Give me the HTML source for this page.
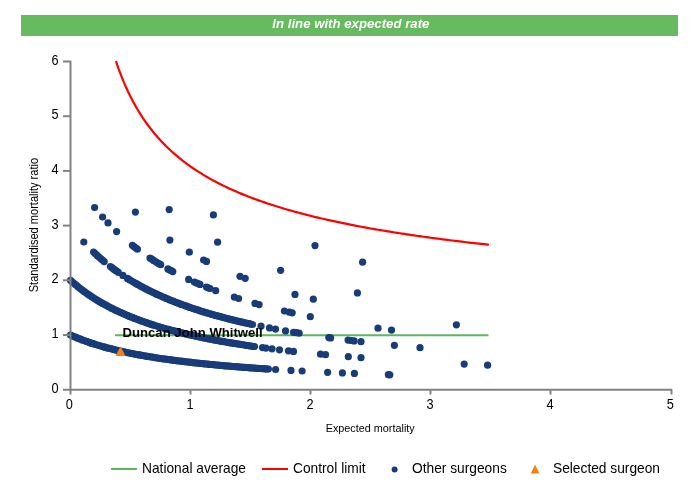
<!DOCTYPE html>
<html><head><meta charset="utf-8"><title>Chart</title>
<style>
html,body{margin:0;padding:0;background:#fff;}
body{width:700px;height:500px;position:relative;overflow:hidden;font-family:"Liberation Sans",sans-serif;}
#hdr{will-change:transform;position:absolute;left:21px;top:15px;width:657px;height:21px;background:#65BB5E;color:#fff;font-weight:bold;font-style:italic;font-size:13.7px;line-height:18px;text-align:center;}
#hdr span{display:inline-block;transform:translateX(1.5px) scaleX(0.965);}
svg{position:absolute;left:0;top:0;will-change:transform;}
svg text{font-family:"Liberation Sans",sans-serif;}
</style></head><body>
<div id="hdr"><span>In line with expected rate</span></div>
<svg width="700" height="500" viewBox="0 0 700 500">
<line x1="115" y1="335.20" x2="488.5" y2="335.20" stroke="#5DB85A" stroke-width="2"/>
<path d="M116.20 61.88 L118.60 68.78 L121.00 75.19 L123.40 81.16 L125.81 86.73 L128.21 91.95 L130.61 96.86 L133.01 101.48 L135.41 105.84 L137.82 109.96 L140.22 113.88 L142.62 117.59 L145.02 121.12 L147.42 124.49 L149.83 127.70 L152.23 130.77 L154.63 133.70 L157.03 136.52 L159.43 139.22 L161.84 141.81 L164.24 144.30 L166.64 146.70 L169.04 149.01 L171.44 151.23 L173.85 153.38 L176.25 155.45 L178.65 157.46 L181.05 159.40 L183.45 161.28 L185.86 163.09 L188.26 164.86 L190.66 166.57 L193.06 168.22 L195.46 169.84 L197.87 171.40 L200.27 172.92 L202.67 174.40 L205.07 175.84 L207.47 177.24 L209.88 178.61 L212.28 179.94 L214.68 181.24 L217.08 182.50 L219.48 183.73 L221.89 184.94 L224.29 186.12 L226.69 187.27 L229.09 188.39 L231.49 189.49 L233.90 190.56 L236.30 191.61 L238.70 192.64 L241.10 193.64 L243.50 194.63 L245.91 195.59 L248.31 196.54 L250.71 197.46 L253.11 198.37 L255.51 199.26 L257.92 200.13 L260.32 200.99 L262.72 201.83 L265.12 202.65 L267.52 203.46 L269.93 204.26 L272.33 205.04 L274.73 205.80 L277.13 206.56 L279.53 207.30 L281.94 208.02 L284.34 208.74 L286.74 209.44 L289.14 210.13 L291.54 210.81 L293.95 211.48 L296.35 212.14 L298.75 212.79 L301.15 213.43 L303.55 214.06 L305.96 214.68 L308.36 215.28 L310.76 215.88 L313.16 216.48 L315.56 217.06 L317.97 217.63 L320.37 218.20 L322.77 218.75 L325.17 219.30 L327.57 219.85 L329.98 220.38 L332.38 220.91 L334.78 221.43 L337.18 221.94 L339.58 222.44 L341.99 222.94 L344.39 223.44 L346.79 223.92 L349.19 224.40 L351.59 224.88 L354.00 225.34 L356.40 225.80 L358.80 226.26 L361.20 226.71 L363.60 227.16 L366.01 227.59 L368.41 228.03 L370.81 228.46 L373.21 228.88 L375.61 229.30 L378.02 229.71 L380.42 230.12 L382.82 230.53 L385.22 230.93 L387.62 231.32 L390.03 231.71 L392.43 232.10 L394.83 232.48 L397.23 232.86 L399.63 233.23 L402.04 233.60 L404.44 233.96 L406.84 234.33 L409.24 234.68 L411.64 235.04 L414.05 235.39 L416.45 235.73 L418.85 236.08 L421.25 236.42 L423.65 236.75 L426.06 237.08 L428.46 237.41 L430.86 237.74 L433.26 238.06 L435.66 238.38 L438.07 238.70 L440.47 239.01 L442.87 239.32 L445.27 239.63 L447.67 239.93 L450.08 240.23 L452.48 240.53 L454.88 240.83 L457.28 241.12 L459.68 241.41 L462.09 241.70 L464.49 241.98 L466.89 242.26 L469.29 242.54 L471.69 242.82 L474.10 243.10 L476.50 243.37 L478.90 243.64 L481.30 243.91 L483.70 244.17 L486.11 244.43 L487.97 244.64" fill="none" stroke="#FF0000" stroke-width="2.2" stroke-linecap="round" stroke-linejoin="round"/>
<g fill="#183C7A">
<circle cx="70.5" cy="335.0" r="3.6"/><circle cx="72.2" cy="335.8" r="3.6"/><circle cx="73.9" cy="336.5" r="3.6"/><circle cx="75.5" cy="337.2" r="3.6"/><circle cx="77.2" cy="337.9" r="3.6"/><circle cx="78.9" cy="338.6" r="3.6"/><circle cx="80.6" cy="339.2" r="3.6"/><circle cx="82.2" cy="339.9" r="3.6"/><circle cx="83.9" cy="340.5" r="3.6"/><circle cx="85.6" cy="341.1" r="3.6"/><circle cx="87.3" cy="341.7" r="3.6"/><circle cx="89.0" cy="342.3" r="3.6"/><circle cx="90.6" cy="342.9" r="3.6"/><circle cx="92.3" cy="343.4" r="3.6"/><circle cx="94.0" cy="343.9" r="3.6"/><circle cx="95.7" cy="344.5" r="3.6"/><circle cx="97.3" cy="345.0" r="3.6"/><circle cx="99.0" cy="345.5" r="3.6"/><circle cx="100.7" cy="346.0" r="3.6"/><circle cx="102.4" cy="346.5" r="3.6"/><circle cx="104.0" cy="346.9" r="3.6"/><circle cx="105.7" cy="347.4" r="3.6"/><circle cx="107.4" cy="347.9" r="3.6"/><circle cx="109.1" cy="348.3" r="3.6"/><circle cx="110.8" cy="348.7" r="3.6"/><circle cx="112.4" cy="349.2" r="3.6"/><circle cx="114.1" cy="349.6" r="3.6"/><circle cx="115.8" cy="350.0" r="3.6"/><circle cx="117.5" cy="350.4" r="3.6"/><circle cx="119.1" cy="350.8" r="3.6"/><circle cx="120.8" cy="351.2" r="3.6"/><circle cx="122.5" cy="351.5" r="3.6"/><circle cx="124.2" cy="351.9" r="3.6"/><circle cx="125.9" cy="352.3" r="3.6"/><circle cx="127.5" cy="352.6" r="3.6"/><circle cx="129.2" cy="353.0" r="3.6"/><circle cx="130.9" cy="353.3" r="3.6"/><circle cx="132.6" cy="353.6" r="3.6"/><circle cx="134.2" cy="354.0" r="3.6"/><circle cx="135.9" cy="354.3" r="3.6"/><circle cx="137.6" cy="354.6" r="3.6"/><circle cx="139.3" cy="354.9" r="3.6"/><circle cx="140.9" cy="355.2" r="3.6"/><circle cx="142.6" cy="355.5" r="3.6"/><circle cx="144.3" cy="355.8" r="3.6"/><circle cx="146.0" cy="356.1" r="3.6"/><circle cx="147.7" cy="356.4" r="3.6"/><circle cx="149.3" cy="356.7" r="3.6"/><circle cx="151.0" cy="357.0" r="3.6"/><circle cx="152.7" cy="357.2" r="3.6"/><circle cx="154.4" cy="357.5" r="3.6"/><circle cx="156.0" cy="357.8" r="3.6"/><circle cx="157.7" cy="358.0" r="3.6"/><circle cx="159.4" cy="358.3" r="3.6"/><circle cx="161.1" cy="358.5" r="3.6"/><circle cx="162.8" cy="358.8" r="3.6"/><circle cx="164.4" cy="359.0" r="3.6"/><circle cx="166.1" cy="359.2" r="3.6"/><circle cx="167.8" cy="359.5" r="3.6"/><circle cx="169.5" cy="359.7" r="3.6"/><circle cx="171.1" cy="359.9" r="3.6"/><circle cx="172.8" cy="360.2" r="3.6"/><circle cx="174.5" cy="360.4" r="3.6"/><circle cx="176.2" cy="360.6" r="3.6"/><circle cx="177.8" cy="360.8" r="3.6"/><circle cx="179.5" cy="361.0" r="3.6"/><circle cx="181.2" cy="361.2" r="3.6"/><circle cx="182.9" cy="361.4" r="3.6"/><circle cx="184.6" cy="361.6" r="3.6"/><circle cx="186.2" cy="361.8" r="3.6"/><circle cx="187.9" cy="362.0" r="3.6"/><circle cx="189.6" cy="362.2" r="3.6"/><circle cx="191.3" cy="362.4" r="3.6"/><circle cx="192.9" cy="362.6" r="3.6"/><circle cx="194.6" cy="362.8" r="3.6"/><circle cx="196.3" cy="363.0" r="3.6"/><circle cx="198.0" cy="363.2" r="3.6"/><circle cx="199.7" cy="363.3" r="3.6"/><circle cx="201.3" cy="363.5" r="3.6"/><circle cx="203.0" cy="363.7" r="3.6"/><circle cx="204.7" cy="363.9" r="3.6"/><circle cx="206.4" cy="364.0" r="3.6"/><circle cx="208.0" cy="364.2" r="3.6"/><circle cx="209.7" cy="364.4" r="3.6"/><circle cx="211.4" cy="364.5" r="3.6"/><circle cx="213.1" cy="364.7" r="3.6"/><circle cx="214.8" cy="364.8" r="3.6"/><circle cx="216.4" cy="365.0" r="3.6"/><circle cx="218.1" cy="365.2" r="3.6"/><circle cx="219.8" cy="365.3" r="3.6"/><circle cx="221.5" cy="365.5" r="3.6"/><circle cx="223.1" cy="365.6" r="3.6"/><circle cx="224.8" cy="365.8" r="3.6"/><circle cx="226.5" cy="365.9" r="3.6"/><circle cx="228.2" cy="366.0" r="3.6"/><circle cx="229.8" cy="366.2" r="3.6"/><circle cx="231.5" cy="366.3" r="3.6"/><circle cx="233.2" cy="366.5" r="3.6"/><circle cx="234.9" cy="366.6" r="3.6"/><circle cx="236.6" cy="366.7" r="3.6"/><circle cx="238.2" cy="366.9" r="3.6"/><circle cx="239.9" cy="367.0" r="3.6"/><circle cx="241.6" cy="367.1" r="3.6"/><circle cx="243.3" cy="367.3" r="3.6"/><circle cx="244.9" cy="367.4" r="3.6"/><circle cx="246.6" cy="367.5" r="3.6"/><circle cx="248.3" cy="367.6" r="3.6"/><circle cx="250.0" cy="367.8" r="3.6"/><circle cx="251.7" cy="367.9" r="3.6"/><circle cx="253.3" cy="368.0" r="3.6"/><circle cx="255.0" cy="368.1" r="3.6"/><circle cx="256.7" cy="368.3" r="3.6"/><circle cx="258.4" cy="368.4" r="3.6"/><circle cx="260.0" cy="368.5" r="3.6"/><circle cx="261.7" cy="368.6" r="3.6"/><circle cx="263.4" cy="368.7" r="3.6"/><circle cx="265.1" cy="368.8" r="3.6"/><circle cx="266.7" cy="368.9" r="3.6"/><circle cx="268.4" cy="369.0" r="3.6"/><circle cx="275.6" cy="369.5" r="3.6"/><circle cx="291.0" cy="370.4" r="3.6"/><circle cx="302.1" cy="371.0" r="3.6"/><circle cx="327.6" cy="372.3" r="3.6"/><circle cx="342.4" cy="372.9" r="3.6"/><circle cx="354.4" cy="373.4" r="3.6"/><circle cx="388.4" cy="374.7" r="3.6"/><circle cx="389.8" cy="374.8" r="3.6"/><circle cx="70.5" cy="280.3" r="3.6"/><circle cx="72.2" cy="281.8" r="3.6"/><circle cx="73.9" cy="283.3" r="3.6"/><circle cx="75.6" cy="284.7" r="3.6"/><circle cx="77.3" cy="286.1" r="3.6"/><circle cx="78.9" cy="287.5" r="3.6"/><circle cx="80.6" cy="288.8" r="3.6"/><circle cx="82.3" cy="290.1" r="3.6"/><circle cx="84.0" cy="291.4" r="3.6"/><circle cx="85.7" cy="292.6" r="3.6"/><circle cx="87.4" cy="293.8" r="3.6"/><circle cx="89.1" cy="294.9" r="3.6"/><circle cx="90.8" cy="296.1" r="3.6"/><circle cx="92.4" cy="297.2" r="3.6"/><circle cx="94.1" cy="298.3" r="3.6"/><circle cx="95.8" cy="299.3" r="3.6"/><circle cx="97.5" cy="300.4" r="3.6"/><circle cx="99.2" cy="301.4" r="3.6"/><circle cx="100.9" cy="302.4" r="3.6"/><circle cx="102.6" cy="303.4" r="3.6"/><circle cx="104.3" cy="304.3" r="3.6"/><circle cx="105.9" cy="305.2" r="3.6"/><circle cx="107.6" cy="306.1" r="3.6"/><circle cx="109.3" cy="307.0" r="3.6"/><circle cx="111.0" cy="307.9" r="3.6"/><circle cx="112.7" cy="308.7" r="3.6"/><circle cx="114.4" cy="309.6" r="3.6"/><circle cx="116.1" cy="310.4" r="3.6"/><circle cx="117.8" cy="311.2" r="3.6"/><circle cx="119.5" cy="312.0" r="3.6"/><circle cx="121.1" cy="312.7" r="3.6"/><circle cx="122.8" cy="313.5" r="3.6"/><circle cx="124.5" cy="314.2" r="3.6"/><circle cx="126.2" cy="315.0" r="3.6"/><circle cx="127.9" cy="315.7" r="3.6"/><circle cx="129.6" cy="316.4" r="3.6"/><circle cx="131.3" cy="317.1" r="3.6"/><circle cx="133.0" cy="317.7" r="3.6"/><circle cx="134.6" cy="318.4" r="3.6"/><circle cx="136.3" cy="319.0" r="3.6"/><circle cx="138.0" cy="319.7" r="3.6"/><circle cx="139.7" cy="320.3" r="3.6"/><circle cx="141.4" cy="320.9" r="3.6"/><circle cx="143.1" cy="321.5" r="3.6"/><circle cx="144.8" cy="322.1" r="3.6"/><circle cx="146.5" cy="322.7" r="3.6"/><circle cx="148.1" cy="323.3" r="3.6"/><circle cx="149.8" cy="323.8" r="3.6"/><circle cx="151.5" cy="324.4" r="3.6"/><circle cx="153.2" cy="324.9" r="3.6"/><circle cx="154.9" cy="325.5" r="3.6"/><circle cx="156.6" cy="326.0" r="3.6"/><circle cx="158.3" cy="326.5" r="3.6"/><circle cx="160.0" cy="327.0" r="3.6"/><circle cx="161.7" cy="327.5" r="3.6"/><circle cx="163.3" cy="328.0" r="3.6"/><circle cx="165.0" cy="328.5" r="3.6"/><circle cx="166.7" cy="329.0" r="3.6"/><circle cx="168.4" cy="329.4" r="3.6"/><circle cx="170.1" cy="329.9" r="3.6"/><circle cx="171.8" cy="330.4" r="3.6"/><circle cx="173.5" cy="330.8" r="3.6"/><circle cx="175.2" cy="331.2" r="3.6"/><circle cx="176.8" cy="331.7" r="3.6"/><circle cx="178.5" cy="332.1" r="3.6"/><circle cx="180.2" cy="332.5" r="3.6"/><circle cx="181.9" cy="332.9" r="3.6"/><circle cx="183.6" cy="333.4" r="3.6"/><circle cx="185.3" cy="333.8" r="3.6"/><circle cx="187.0" cy="334.2" r="3.6"/><circle cx="188.7" cy="334.6" r="3.6"/><circle cx="190.3" cy="334.9" r="3.6"/><circle cx="192.0" cy="335.3" r="3.6"/><circle cx="193.7" cy="335.7" r="3.6"/><circle cx="195.4" cy="336.1" r="3.6"/><circle cx="197.1" cy="336.4" r="3.6"/><circle cx="198.8" cy="336.8" r="3.6"/><circle cx="200.5" cy="337.2" r="3.6"/><circle cx="202.2" cy="337.5" r="3.6"/><circle cx="203.9" cy="337.9" r="3.6"/><circle cx="205.5" cy="338.2" r="3.6"/><circle cx="207.2" cy="338.5" r="3.6"/><circle cx="208.9" cy="338.9" r="3.6"/><circle cx="210.6" cy="339.2" r="3.6"/><circle cx="212.3" cy="339.5" r="3.6"/><circle cx="214.0" cy="339.9" r="3.6"/><circle cx="215.7" cy="340.2" r="3.6"/><circle cx="217.4" cy="340.5" r="3.6"/><circle cx="219.0" cy="340.8" r="3.6"/><circle cx="220.7" cy="341.1" r="3.6"/><circle cx="222.4" cy="341.4" r="3.6"/><circle cx="224.1" cy="341.7" r="3.6"/><circle cx="225.8" cy="342.0" r="3.6"/><circle cx="227.5" cy="342.3" r="3.6"/><circle cx="229.2" cy="342.6" r="3.6"/><circle cx="230.9" cy="342.9" r="3.6"/><circle cx="232.5" cy="343.1" r="3.6"/><circle cx="234.2" cy="343.4" r="3.6"/><circle cx="235.9" cy="343.7" r="3.6"/><circle cx="237.6" cy="344.0" r="3.6"/><circle cx="239.3" cy="344.2" r="3.6"/><circle cx="241.0" cy="344.5" r="3.6"/><circle cx="242.7" cy="344.7" r="3.6"/><circle cx="244.4" cy="345.0" r="3.6"/><circle cx="246.1" cy="345.3" r="3.6"/><circle cx="247.7" cy="345.5" r="3.6"/><circle cx="249.4" cy="345.8" r="3.6"/><circle cx="251.1" cy="346.0" r="3.6"/><circle cx="252.8" cy="346.3" r="3.6"/><circle cx="254.5" cy="346.5" r="3.6"/><circle cx="262.5" cy="347.6" r="3.6"/><circle cx="266.0" cy="348.1" r="3.6"/><circle cx="272.0" cy="348.8" r="3.6"/><circle cx="279.5" cy="349.8" r="3.6"/><circle cx="288.5" cy="350.8" r="3.6"/><circle cx="293.5" cy="351.4" r="3.6"/><circle cx="320.5" cy="354.2" r="3.6"/><circle cx="325.5" cy="354.7" r="3.6"/><circle cx="348.3" cy="356.7" r="3.6"/><circle cx="361.0" cy="357.7" r="3.6"/><circle cx="464.2" cy="364.1" r="3.6"/><circle cx="487.6" cy="365.2" r="3.6"/><circle cx="83.8" cy="242.0" r="3.6"/><circle cx="93.6" cy="252.0" r="3.6"/><circle cx="95.3" cy="253.7" r="3.6"/><circle cx="97.1" cy="255.4" r="3.6"/><circle cx="98.9" cy="257.0" r="3.6"/><circle cx="100.7" cy="258.6" r="3.6"/><circle cx="102.5" cy="260.1" r="3.6"/><circle cx="104.2" cy="261.6" r="3.6"/><circle cx="110.4" cy="266.5" r="3.6"/><circle cx="112.0" cy="267.7" r="3.6"/><circle cx="113.5" cy="268.9" r="3.6"/><circle cx="115.1" cy="270.1" r="3.6"/><circle cx="116.7" cy="271.2" r="3.6"/><circle cx="118.3" cy="272.3" r="3.6"/><circle cx="122.9" cy="275.4" r="3.6"/><circle cx="127.4" cy="278.4" r="3.6"/><circle cx="129.1" cy="279.4" r="3.6"/><circle cx="130.8" cy="280.5" r="3.6"/><circle cx="132.5" cy="281.5" r="3.6"/><circle cx="134.2" cy="282.5" r="3.6"/><circle cx="135.9" cy="283.4" r="3.6"/><circle cx="137.6" cy="284.4" r="3.6"/><circle cx="139.3" cy="285.3" r="3.6"/><circle cx="140.9" cy="286.3" r="3.6"/><circle cx="142.6" cy="287.2" r="3.6"/><circle cx="144.3" cy="288.1" r="3.6"/><circle cx="146.0" cy="288.9" r="3.6"/><circle cx="147.7" cy="289.8" r="3.6"/><circle cx="149.4" cy="290.7" r="3.6"/><circle cx="151.1" cy="291.5" r="3.6"/><circle cx="152.8" cy="292.3" r="3.6"/><circle cx="154.5" cy="293.1" r="3.6"/><circle cx="156.1" cy="293.9" r="3.6"/><circle cx="157.8" cy="294.7" r="3.6"/><circle cx="159.5" cy="295.5" r="3.6"/><circle cx="161.2" cy="296.2" r="3.6"/><circle cx="162.9" cy="297.0" r="3.6"/><circle cx="164.6" cy="297.7" r="3.6"/><circle cx="166.3" cy="298.4" r="3.6"/><circle cx="168.0" cy="299.1" r="3.6"/><circle cx="169.7" cy="299.8" r="3.6"/><circle cx="171.4" cy="300.5" r="3.6"/><circle cx="173.0" cy="301.2" r="3.6"/><circle cx="174.7" cy="301.8" r="3.6"/><circle cx="176.4" cy="302.5" r="3.6"/><circle cx="178.1" cy="303.2" r="3.6"/><circle cx="179.8" cy="303.8" r="3.6"/><circle cx="181.5" cy="304.4" r="3.6"/><circle cx="183.2" cy="305.0" r="3.6"/><circle cx="184.9" cy="305.6" r="3.6"/><circle cx="186.6" cy="306.2" r="3.6"/><circle cx="188.2" cy="306.8" r="3.6"/><circle cx="189.9" cy="307.4" r="3.6"/><circle cx="191.6" cy="308.0" r="3.6"/><circle cx="193.3" cy="308.6" r="3.6"/><circle cx="195.0" cy="309.1" r="3.6"/><circle cx="196.7" cy="309.7" r="3.6"/><circle cx="198.4" cy="310.2" r="3.6"/><circle cx="200.1" cy="310.8" r="3.6"/><circle cx="201.8" cy="311.3" r="3.6"/><circle cx="203.5" cy="311.8" r="3.6"/><circle cx="205.1" cy="312.3" r="3.6"/><circle cx="206.8" cy="312.8" r="3.6"/><circle cx="208.5" cy="313.3" r="3.6"/><circle cx="210.2" cy="313.8" r="3.6"/><circle cx="211.9" cy="314.3" r="3.6"/><circle cx="213.6" cy="314.8" r="3.6"/><circle cx="215.3" cy="315.3" r="3.6"/><circle cx="217.0" cy="315.8" r="3.6"/><circle cx="218.7" cy="316.2" r="3.6"/><circle cx="220.4" cy="316.7" r="3.6"/><circle cx="222.0" cy="317.1" r="3.6"/><circle cx="223.7" cy="317.6" r="3.6"/><circle cx="225.4" cy="318.0" r="3.6"/><circle cx="227.1" cy="318.5" r="3.6"/><circle cx="228.8" cy="318.9" r="3.6"/><circle cx="230.5" cy="319.3" r="3.6"/><circle cx="232.2" cy="319.8" r="3.6"/><circle cx="233.9" cy="320.2" r="3.6"/><circle cx="235.6" cy="320.6" r="3.6"/><circle cx="237.2" cy="321.0" r="3.6"/><circle cx="238.9" cy="321.4" r="3.6"/><circle cx="240.6" cy="321.8" r="3.6"/><circle cx="242.3" cy="322.2" r="3.6"/><circle cx="244.0" cy="322.6" r="3.6"/><circle cx="245.7" cy="323.0" r="3.6"/><circle cx="247.4" cy="323.3" r="3.6"/><circle cx="249.1" cy="323.7" r="3.6"/><circle cx="250.8" cy="324.1" r="3.6"/><circle cx="252.5" cy="324.5" r="3.6"/><circle cx="261.0" cy="326.2" r="3.6"/><circle cx="269.5" cy="327.9" r="3.6"/><circle cx="275.5" cy="329.1" r="3.6"/><circle cx="285.5" cy="330.9" r="3.6"/><circle cx="293.5" cy="332.3" r="3.6"/><circle cx="296.3" cy="332.7" r="3.6"/><circle cx="299.1" cy="333.2" r="3.6"/><circle cx="328.8" cy="337.6" r="3.6"/><circle cx="330.6" cy="337.9" r="3.6"/><circle cx="348.1" cy="340.1" r="3.6"/><circle cx="351.1" cy="340.5" r="3.6"/><circle cx="354.1" cy="340.9" r="3.6"/><circle cx="361.0" cy="341.7" r="3.6"/><circle cx="394.4" cy="345.3" r="3.6"/><circle cx="420.0" cy="347.7" r="3.6"/><circle cx="94.6" cy="207.5" r="3.6"/><circle cx="102.6" cy="217.0" r="3.6"/><circle cx="108.0" cy="222.9" r="3.6"/><circle cx="116.6" cy="231.6" r="3.6"/><circle cx="132.4" cy="245.3" r="3.6"/><circle cx="134.0" cy="246.6" r="3.6"/><circle cx="135.7" cy="247.9" r="3.6"/><circle cx="137.4" cy="249.2" r="3.6"/><circle cx="150.0" cy="258.1" r="3.6"/><circle cx="151.8" cy="259.2" r="3.6"/><circle cx="153.6" cy="260.4" r="3.6"/><circle cx="155.4" cy="261.5" r="3.6"/><circle cx="157.1" cy="262.6" r="3.6"/><circle cx="158.9" cy="263.7" r="3.6"/><circle cx="160.7" cy="264.7" r="3.6"/><circle cx="167.9" cy="268.9" r="3.6"/><circle cx="169.5" cy="269.8" r="3.6"/><circle cx="171.2" cy="270.7" r="3.6"/><circle cx="172.8" cy="271.6" r="3.6"/><circle cx="188.6" cy="279.4" r="3.6"/><circle cx="194.3" cy="282.0" r="3.6"/><circle cx="196.2" cy="282.8" r="3.6"/><circle cx="198.1" cy="283.6" r="3.6"/><circle cx="200.0" cy="284.4" r="3.6"/><circle cx="206.5" cy="287.1" r="3.6"/><circle cx="208.3" cy="287.8" r="3.6"/><circle cx="210.1" cy="288.5" r="3.6"/><circle cx="215.7" cy="290.7" r="3.6"/><circle cx="234.3" cy="297.1" r="3.6"/><circle cx="238.6" cy="298.5" r="3.6"/><circle cx="255.0" cy="303.4" r="3.6"/><circle cx="259.1" cy="304.6" r="3.6"/><circle cx="284.4" cy="311.0" r="3.6"/><circle cx="289.3" cy="312.2" r="3.6"/><circle cx="292.2" cy="312.8" r="3.6"/><circle cx="310.3" cy="316.7" r="3.6"/><circle cx="378.0" cy="328.2" r="3.6"/><circle cx="391.5" cy="330.1" r="3.6"/><circle cx="135.4" cy="212.1" r="3.6"/><circle cx="169.9" cy="240.1" r="3.6"/><circle cx="189.3" cy="252.2" r="3.6"/><circle cx="203.6" cy="260.0" r="3.6"/><circle cx="206.5" cy="261.4" r="3.6"/><circle cx="240.0" cy="276.3" r="3.6"/><circle cx="245.2" cy="278.3" r="3.6"/><circle cx="295.0" cy="294.4" r="3.6"/><circle cx="313.3" cy="299.2" r="3.6"/><circle cx="456.4" cy="324.8" r="3.6"/><circle cx="169.2" cy="209.6" r="3.6"/><circle cx="217.6" cy="242.2" r="3.6"/><circle cx="280.6" cy="270.3" r="3.6"/><circle cx="357.4" cy="292.9" r="3.6"/><circle cx="213.4" cy="214.9" r="3.6"/><circle cx="315.0" cy="245.6" r="3.6"/><circle cx="362.6" cy="262.2" r="3.6"/>
</g>
<g fill="none" stroke="#828282" stroke-width="2" stroke-linejoin="round">
<path d="M63 61.50 H70.5 V394.5"/>
<path d="M63 389.70 H671.5 V394.5"/>
<path d="M63 335.00 H70.5"/><path d="M63 280.30 H70.5"/><path d="M63 225.60 H70.5"/><path d="M63 170.90 H70.5"/><path d="M63 116.20 H70.5"/><path d="M190.5 389 V394.5"/><path d="M310.5 389 V394.5"/><path d="M430.5 389 V394.5"/><path d="M550.5 389 V394.5"/>
</g>
<g font-size="15.2" fill="#000"><text transform="translate(58.7,392.8) scale(0.84,1)" text-anchor="end">0</text><text transform="translate(58.7,338.1) scale(0.84,1)" text-anchor="end">1</text><text transform="translate(58.7,283.4) scale(0.84,1)" text-anchor="end">2</text><text transform="translate(58.7,228.7) scale(0.84,1)" text-anchor="end">3</text><text transform="translate(58.7,174.0) scale(0.84,1)" text-anchor="end">4</text><text transform="translate(58.7,119.3) scale(0.84,1)" text-anchor="end">5</text><text transform="translate(58.7,64.6) scale(0.84,1)" text-anchor="end">6</text><text transform="translate(69.4,409.1) scale(0.84,1)" text-anchor="middle">0</text><text transform="translate(190.1,409.1) scale(0.84,1)" text-anchor="middle">1</text><text transform="translate(310.1,409.1) scale(0.84,1)" text-anchor="middle">2</text><text transform="translate(430.1,409.1) scale(0.84,1)" text-anchor="middle">3</text><text transform="translate(550.1,409.1) scale(0.84,1)" text-anchor="middle">4</text><text transform="translate(670.4,409.1) scale(0.84,1)" text-anchor="middle">5</text></g>
<text transform="translate(370.2,432) scale(0.943,1)" font-size="11.5" text-anchor="middle" fill="#000">Expected mortality</text>
<text transform="translate(37.9,225.1) rotate(-90) scale(0.87,1)" font-size="12.7" text-anchor="middle" fill="#000">Standardised mortality ratio</text>
<polygon points="120.5,346.5 125.6,356 115.4,356" fill="#F28118"/>
<text x="122.5" y="337" font-size="13.15" font-weight="bold" fill="#000">Duncan John Whitwell</text>
<g font-size="13.75" fill="#000">
<line x1="111" y1="469" x2="137" y2="469" stroke="#5DB85A" stroke-width="2"/>
<text x="142" y="473.2">National average</text>
<line x1="262" y1="469" x2="288" y2="469" stroke="#FF0000" stroke-width="2"/>
<text x="293" y="473.2">Control limit</text>
<circle cx="394.6" cy="469.5" r="3" fill="#183C7A"/>
<text x="412" y="473.2">Other surgeons</text>
<polygon points="535.05,464.6 539.4,473.5 530.7,473.5" fill="#F28118"/>
<text x="553" y="473.2">Selected surgeon</text>
</g>
</svg>
</body></html>
